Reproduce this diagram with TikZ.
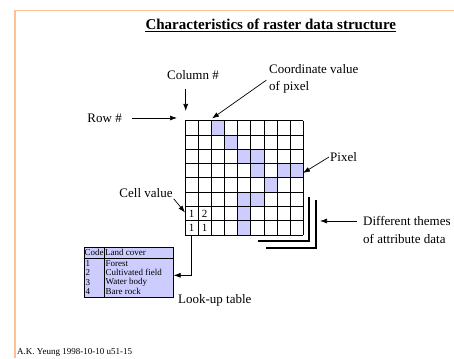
\documentclass[tikz,border=0pt]{standalone}
\usepackage{fontspec}
\setmainfont{Liberation Serif}
\usetikzlibrary{arrows.meta,positioning}
\definecolor{pixfill}{RGB}{204,204,255}
\definecolor{slideline}{RGB}{255,192,152}
\newcommand\cw{13.15}
\newcommand\ch{14.29}
\begin{document}
\begin{tikzpicture}[x=1pt,y=-1pt,>={Latex[length=7pt,width=5pt]},
    lbl/.style={font=\fontsize{13}{17}\selectfont,inner sep=1pt},
    tbl/.style={font=\fontsize{9}{9}\selectfont,anchor=west,inner sep=.5pt},
    arr/.style={->,line width=.7pt},
    cell/.style={minimum width=\cw pt,minimum height=\ch pt,inner sep=0pt,font=\fontsize{11}{11}\selectfont}]
    \useasboundingbox (0,0) rectangle (454,358);
    \draw[slideline,line width=1.2pt] (15,358) -- (15,10.5) -- (454,10.5);
    \node[font=\fontsize{15}{15}\selectfont\bfseries,inner sep=0pt] (title) at (270.8,24) {Characteristics of raster data structure};
    \draw[line width=1.1pt] ([yshift=-2.5pt]title.base west) -- ([yshift=-2.5pt]title.base east);

    % the raster, shaded pixels first
    \foreach \c/\r in {3/1,4/2,5/3,6/3,6/4,8/4,9/4,7/5,5/6,6/6,5/7,5/8}
        \fill[pixfill] ({185+(\c-1)*\cw},{120.7+(\r-1)*\ch}) rectangle ++(\cw,\ch);
    \foreach \i in {0,...,9}
        \draw[line width=.8pt] ({185+\i*\cw},120.7) -- ++(0,{8*\ch});
    \foreach \j in {0,...,8}
        \draw[line width=.8pt] (185,{120.7+\j*\ch}) -- ++({9*\cw},0);
    \node[cell] (v71) at ({185+.5*\cw},{120.7+6.5*\ch}) {1};
    \node[cell] (v72) at ({185+1.5*\cw},{120.7+6.5*\ch}) {2};
    \node[cell] (v81) at ({185+.5*\cw},{120.7+7.5*\ch}) {1};
    \node[cell] (v82) at ({185+1.5*\cw},{120.7+7.5*\ch}) {1};

    % layers behind
    \draw[line width=2pt] (308.5,197) -- (308.5,240.5) -- (258,240.5);
    \draw[line width=2pt] (315.5,200) -- (315.5,247.5) -- (266,247.5);

    \node[lbl] (colnum) at (193,75) {Column \#};
    \coordinate (coltip) at (185.7,111);
    \draw[arr,shorten <=8pt] (colnum.south -| coltip) -- (coltip);

    \node[lbl,anchor=east] (rownum) at (123,118) {Row \#};
    \coordinate (rowtip) at (177,118);
    \draw[arr,shorten <=9pt] (rownum.east) -- (rowtip);

    \node[lbl,anchor=west,align=left] (coord) at (268,79) {Coordinate value\\of pixel};
    \coordinate (coordtip) at (212,118.5);
    \draw[arr,shorten <=2pt] (coord.west) -- (coordtip);

    \node[lbl,anchor=west] (pixel) at (329,157) {Pixel};
    \coordinate (pixtip) at (303,173);
    \draw[arr] (pixel.west) -- (pixtip);

    \node[lbl] (cellval) at (146,193) {Cell value};
    \coordinate (celltip) at (185,212.5);
    \draw[arr] (cellval.south east) -- (celltip);

    \node[lbl,anchor=west] (themes) at (362,221) {Different themes};
    \node[lbl,below right=6.5pt and 0pt of themes.south west] (themesb) {of attribute data};
    \coordinate (themetip) at (320,221);
    \draw[arr,shorten <=5pt] (themes.west) -- (themetip);

    % look-up table
    \node[draw,fill=pixfill,line width=.6pt,anchor=north west,minimum width=89.5pt,minimum height=50pt,inner sep=0pt] (lut) at (83.5,247) {};
    \draw[line width=.6pt] ([xshift=20.5pt]lut.north west) -- ([xshift=20.5pt]lut.south west);
    \draw[line width=.6pt] ([yshift=-11pt]lut.north west) -- ([yshift=-11pt]lut.north east);
    \node[tbl] (code) at (84,252.5) {Code};
    \node[tbl] (cover) at (104.5,252.5) {Land cover};
    \foreach \n/\name [count=\k] in {1/Forest,2/Cultivated field,3/Water body,4/Bare rock}{
        \node[tbl] (c\k) at (85,{253.5+\k*9.6}) {\n};
        \node[tbl] (n\k) at (105,{253.5+\k*9.6}) {\name};
    }
    \draw[arr] (v81.south) |- ([yshift=-3pt]lut.east);
    \node[lbl,anchor=west] (lutlbl) at (177,300) {Look-up table};

    \node[font=\fontsize{9}{9}\selectfont,anchor=west,inner sep=0pt] (credit) at (17,352) {A.K. Yeung 1998-10-10 u51-15};
\end{tikzpicture}
\end{document}
